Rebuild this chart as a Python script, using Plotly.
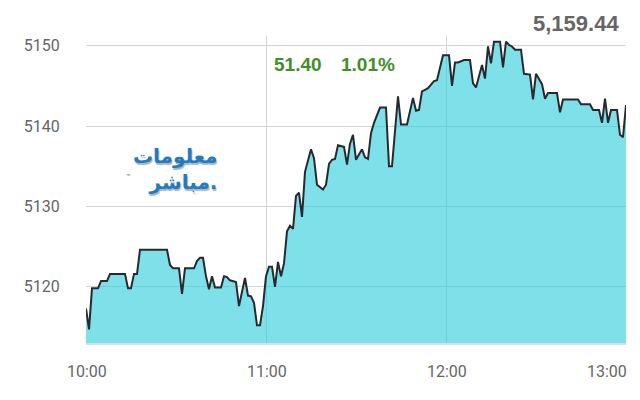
import plotly.graph_objects as go
from datetime import datetime, timedelta

# minutes after 10:00 and index values
minutes = [0, 1, 2, 4, 5, 7, 8, 13, 14, 15, 16, 17, 18, 27, 28, 29, 31, 32, 33, 36,
           37, 38, 39, 40, 41, 42, 43, 45, 46, 47, 48, 50, 51, 53, 54, 55, 56, 57, 58, 59,
           60, 61, 62, 63, 64, 65, 66, 67, 68, 69, 70, 71, 72, 73, 75, 76, 77, 79, 80, 81,
           82, 83, 84, 86, 87, 88, 89, 90, 92, 93, 94, 95, 96, 98, 100, 101, 102, 104, 105, 107,
           109, 110, 111, 112, 113, 114, 116, 117, 119, 121, 122, 123, 124, 126, 128, 129, 130, 132, 133, 134,
           135, 136, 138, 139, 140, 141, 142, 143, 145, 146, 148, 149, 150, 152, 153, 154, 157, 158, 159, 164,
           165, 168, 169, 171, 172, 173, 174, 175, 177, 178, 179, 180]
values = [5117.3, 5114.7, 5119.8, 5119.8, 5120.7, 5120.7, 5121.6, 5121.6, 5119.8, 5119.8,
          5121.6, 5121.6, 5124.6, 5124.6, 5122.7, 5122.3, 5122.3, 5119.1, 5122.3, 5122.3,
          5123.2, 5123.6, 5123.6, 5121.3, 5119.7, 5121.3, 5119.9, 5119.9, 5121.3, 5121.2,
          5120.8, 5120.6, 5117.6, 5121.1, 5118.9, 5118.8, 5118.0, 5115.2, 5115.2, 5117.6,
          5121.3, 5122.5, 5122.5, 5120.0, 5123.1, 5121.3, 5122.9, 5126.9, 5127.6, 5127.2,
          5131.3, 5131.7, 5128.7, 5134.3, 5137.1, 5136.0, 5132.7, 5132.1, 5132.7, 5135.3,
          5135.8, 5135.9, 5137.6, 5137.4, 5135.2, 5137.8, 5138.9, 5135.8, 5137.1, 5136.1,
          5135.9, 5139.1, 5140.4, 5142.3, 5142.3, 5135.0, 5135.0, 5143.7, 5140.2, 5140.2,
          5143.5, 5141.9, 5142.0, 5144.3, 5144.5, 5144.7, 5145.6, 5145.7, 5148.8, 5148.8,
          5145.0, 5147.9, 5147.9, 5148.2, 5148.2, 5145.3, 5144.8, 5147.6, 5145.9, 5149.9,
          5147.8, 5150.5, 5150.5, 5147.3, 5150.5, 5150.1, 5149.9, 5149.5, 5149.5, 5146.5,
          5146.4, 5143.3, 5146.5, 5145.2, 5143.4, 5144.1, 5144.1, 5141.7, 5143.3, 5143.3,
          5142.7, 5142.7, 5142.0, 5142.0, 5140.4, 5143.4, 5140.4, 5142.0, 5142.0, 5138.9,
          5138.6, 5142.6]

x_tick_hours = [10, 11, 12, 13]
x_tick_labels = ["10:00", "11:00", "12:00", "13:00"]
y_tick_vals = [5120, 5130, 5140, 5150]

last_value_text = "5,159.44"
change_text = "51.40"
change_pct_text = "1.01%"
logo_line1 = "معلومات"
logo_line2 = "مباشر"

base = datetime(2024, 1, 1, 0, 0)
times = [base + timedelta(hours=10, minutes=m) for m in minutes]
tick_times = [base + timedelta(hours=h) for h in x_tick_hours]

fig = go.Figure()
fig.add_trace(go.Scatter(
    x=times, y=values, mode="lines",
    line=dict(color="#262a2e", width=2),
    fill="tozeroy", fillcolor="rgba(40,205,220,0.6)",
    hoverinfo="skip", showlegend=False,
))

fig.update_layout(
    width=640, height=400,
    margin=dict(l=86, r=14, t=36, b=57),
    paper_bgcolor="white", plot_bgcolor="white",
    font=dict(family="Roboto, Liberation Sans, sans-serif", color="#666666"),
)
fig.update_xaxes(
    range=[tick_times[0], tick_times[-1]],
    tickvals=tick_times, showticklabels=False,
    showgrid=True, gridcolor="#d4d4d4", gridwidth=1,
    showline=True, linecolor="#dddddd", linewidth=2,
    zeroline=False,
)
fig.update_yaxes(
    range=[5113.0, 5151.2],
    tickvals=y_tick_vals, ticktext=[str(v) for v in y_tick_vals],
    tickfont=dict(size=16, color="#666666"),
    ticks="outside", ticklen=22, tickcolor="rgba(0,0,0,0)",
    showgrid=True, gridcolor="#d4d4d4", gridwidth=1,
    zeroline=False, showline=False,
)

# x tick labels (last one kept inside the chart)
for i, (t, lab) in enumerate(zip(tick_times, x_tick_labels)):
    last = i == len(tick_times) - 1
    fig.add_annotation(
        x=t, y=0, xref="x", yref="paper", yanchor="top",
        xanchor="right" if last else "center", yshift=-17, xshift=3 if last else 1,
        text=lab, showarrow=False,
        font=dict(size=16, color="#666666", family="Roboto, sans-serif"),
    )

# header texts
fig.add_annotation(x=1, y=1, xref="paper", yref="paper", xanchor="right", yanchor="middle",
                   xshift=-5, yshift=13, text="<b>" + last_value_text + "</b>", showarrow=False,
                   font=dict(size=22, color="#666666", family="Liberation Sans, Arial, sans-serif"))
fig.add_annotation(x=0, y=1, xref="paper", yref="paper", xanchor="left", yanchor="middle",
                   xshift=186, yshift=-28, text="<b>" + change_text + "</b>", showarrow=False,
                   font=dict(size=19, color="#3f8f2a", family="Liberation Sans, Arial, sans-serif"))
fig.add_annotation(x=0, y=1, xref="paper", yref="paper", xanchor="left", yanchor="middle",
                   xshift=253, yshift=-28, text="<b>" + change_pct_text + "</b>", showarrow=False,
                   font=dict(size=19, color="#3f8f2a", family="Liberation Sans, Arial, sans-serif"))

# logo
fig.add_annotation(x=0, y=1, xref="paper", yref="paper", xanchor="left", yanchor="middle",
                   xshift=45, yshift=-133, align="right",
                   text="<b>" + logo_line1 + "</b><br><b>" + logo_line2 + ".</b>",
                   showarrow=False,
                   font=dict(size=20, color="#1f7bc4", family="DejaVu Sans, sans-serif",
                             shadow="1px 2px 1px #a9b4bc"))
fig.add_annotation(x=0, y=1, xref="paper", yref="paper", xanchor="left", yanchor="middle",
                   xshift=38, yshift=-141, text="™", showarrow=False,
                   font=dict(size=7, color="#666666"))

fig.write_html("out.html", post_script="document.body.style.margin='0';",
               config={"displayModeBar": False})
